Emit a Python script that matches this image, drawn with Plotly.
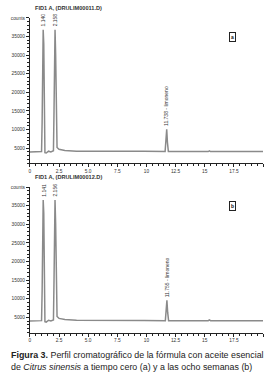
import plotly.graph_objects as go

# ---- data ----
time_a = [0, 0.85, 1.00, 1.05, 1.09, 1.14, 1.19, 1.23, 1.29, 1.40, 1.60, 1.80, 2.02, 2.07, 2.11, 2.158, 2.21, 2.26,
          2.33, 2.50, 3.00, 4.00, 9.60, 9.70, 9.80, 11.60, 11.68, 11.738, 11.80, 11.88, 15.30, 15.40, 15.50, 20.0]
counts_a = [4000, 4000, 4100, 12000, 34000, 36800, 33000, 9000, 3800, 3700, 4200, 4000, 4300, 15000, 35000, 36800,
            30000, 8000, 5200, 4700, 4400, 4200, 4150, 4350, 4150, 4100, 7000, 10080, 6500, 4100, 4100, 4300, 4100, 4100]

time_b = [0, 0.85, 1.00, 1.05, 1.09, 1.141, 1.19, 1.23, 1.29, 1.40, 1.60, 1.80, 2.02, 2.07, 2.11, 2.156, 2.21, 2.26,
          2.33, 2.50, 3.00, 4.00, 9.60, 9.70, 9.80, 11.62, 11.70, 11.755, 11.82, 11.90, 15.30, 15.40, 15.50, 20.0]
counts_b = [4000, 4000, 4100, 12000, 34000, 36500, 33000, 9000, 3800, 3700, 4200, 4000, 4300, 15000, 35000, 36500,
            30000, 8000, 5200, 4700, 4400, 4200, 4150, 4350, 4150, 4100, 6800, 9540, 6300, 4100, 4100, 4300, 4100, 4100]

peaks_a_t = [1.14, 2.158, 11.738]
peaks_a_y = [36800, 36800, 10080]
peaks_a_lbl = ["1.140", "2.158", "11.738 - limoneno"]

peaks_b_t = [1.141, 2.156, 11.755]
peaks_b_y = [36500, 36500, 9540]
peaks_b_lbl = ["1.141", "2.156", "11.755 - limoneno"]

titles = ["FID1 A, (DRULIM00011.D)", "FID1 A, (DRULIM00012.D)"]
panel_tags = ["a", "b"]

x_tickvals = [0, 2.5, 5, 7.5, 10, 12.5, 15, 17.5, 20]
x_ticktext = ["0", "2.5", "5.0", "7.5", "10", "12.5", "15", "17.5", "minute"]
y_tickvals = [5000, 10000, 15000, 20000, 25000, 30000, 35000, 40000]
y_ticktext = ["5000", "10000", "15000", "20000", "25000", "30000", "35000", "counts"]

W, H = 269, 379
FONT = "Liberation Sans, Arial, sans-serif"
LINE = "#8a8a8a"

fig = go.Figure()
fig.add_trace(go.Scatter(x=time_a, y=counts_a, mode="lines", line=dict(color=LINE, width=1.5),
                         xaxis="x", yaxis="y", showlegend=False, hoverinfo="skip"))
fig.add_trace(go.Scatter(x=time_b, y=counts_b, mode="lines", line=dict(color=LINE, width=1.5),
                         xaxis="x2", yaxis="y2", showlegend=False, hoverinfo="skip"))

xdom = [29 / W, 263 / W]
doms = [[1 - 162.3 / H, 1 - 16 / H], [1 - 332.3 / H, 1 - 186 / H]]

def xaxis(anchor):
    return dict(domain=xdom, anchor=anchor, range=[0, 20], tickvals=x_tickvals, ticktext=x_ticktext,
                showgrid=False, zeroline=False, showline=True, linecolor="#222", linewidth=1,
                ticks="outside", ticklen=3, tickcolor="#222", tickwidth=0.8,
                tickfont=dict(size=4.8, family=FONT, color="#333"),
                minor=dict(dtick=0.5, ticks="outside", ticklen=2, tickcolor="#222", tickwidth=0.6))

def yaxis(anchor, dom):
    return dict(domain=dom, anchor=anchor, range=[900, 40000], tickvals=y_tickvals, ticktext=y_ticktext,
                showgrid=False, zeroline=False, showline=True, linecolor="#222", linewidth=1,
                ticks="outside", ticklen=3, tickcolor="#222", tickwidth=0.8,
                tickfont=dict(size=4.8, family=FONT, color="#333"),
                minor=dict(dtick=1000, ticks="outside", ticklen=1.5, tickcolor="#222", tickwidth=0.6))

annotations = []
for i, (pt, py, pl, xr, yr) in enumerate([(peaks_a_t, peaks_a_y, peaks_a_lbl, "x", "y"),
                                           (peaks_b_t, peaks_b_y, peaks_b_lbl, "x2", "y2")]):
    for t, y, l in zip(pt, py, pl):
        annotations.append(dict(x=t, y=y, xref=xr, yref=yr, text=l, showarrow=False, textangle=-90,
                                xanchor="center", yanchor="bottom", yshift=1,
                                font=dict(size=5, family=FONT, color="#333")))
    top = doms[i][1]
    annotations.append(dict(x=68 / W, y=top + 10 / H, xref="paper", yref="paper", text="<b>" + titles[i] + "</b>",
                            showarrow=False, xanchor="center", yanchor="middle",
                            font=dict(size=5.6, family=FONT, color="#333")))
    annotations.append(dict(x=232 / W, y=top - 19 / H, xref="paper", yref="paper", text="<b>" + panel_tags[i] + "</b>",
                            showarrow=False, xanchor="center", yanchor="middle", bordercolor="#222",
                            borderwidth=1, borderpad=1, bgcolor="white",
                            font=dict(size=5, family=FONT, color="#111")))

annotations.append(dict(x=8 / W, y=1 - 355 / H, xref="paper", yref="paper", showarrow=False,
                        xanchor="left", yanchor="middle", align="left",
                        text="<b>Figura 3.</b> Perfil cromatográfico de la fórmula con aceite esencial",
                        font=dict(size=8.9, family=FONT, color="#222")))
annotations.append(dict(x=8 / W, y=1 - 367 / H, xref="paper", yref="paper", showarrow=False,
                        xanchor="left", yanchor="middle", align="left",
                        text="de <i>Citrus sinensis</i> a tiempo cero (a) y a las ocho semanas (b)",
                        font=dict(size=8.9, family=FONT, color="#222")))

fig.update_layout(width=W, height=H, margin=dict(l=0, r=0, t=0, b=0), paper_bgcolor="white",
                  plot_bgcolor="white", showlegend=False,
                  xaxis=xaxis("y"), yaxis=yaxis("x", doms[0]),
                  xaxis2=xaxis("y2"), yaxis2=yaxis("x2", doms[1]),
                  annotations=annotations)

fig.write_html("out.html")
